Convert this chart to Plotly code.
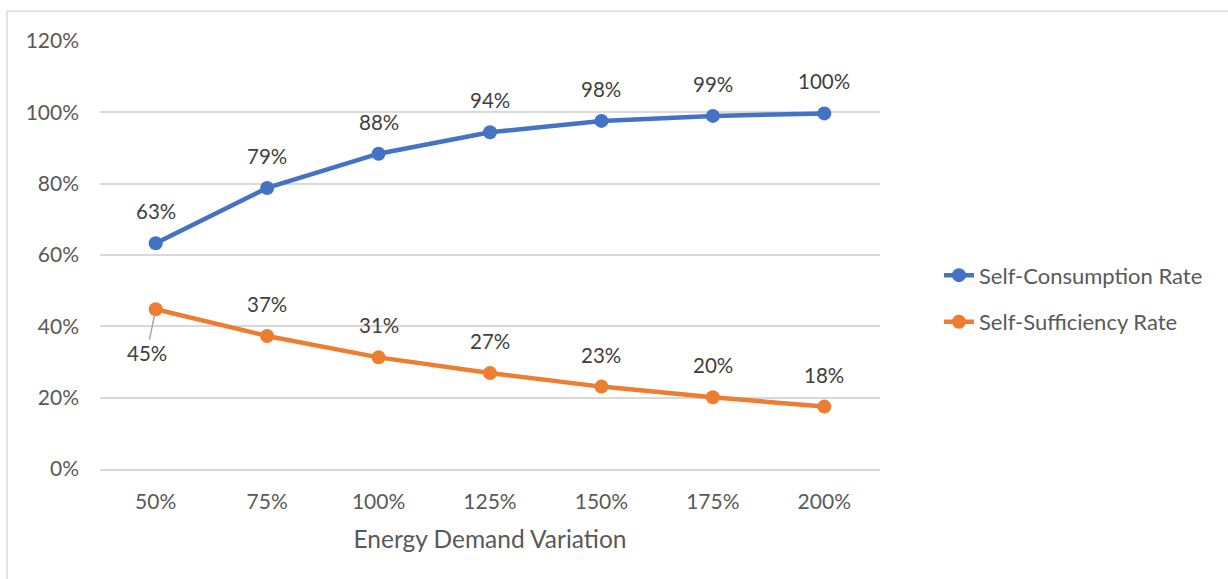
import plotly.graph_objects as go

# Energy demand scenarios and resulting rates (fractions)
demand_labels = ["50%", "75%", "100%", "125%", "150%", "175%", "200%"]
self_consumption = [0.633, 0.788, 0.884, 0.944, 0.976, 0.990, 0.997]
self_sufficiency = [0.448, 0.373, 0.313, 0.269, 0.231, 0.201, 0.175]
y_ticks = [0, 0.2, 0.4, 0.6, 0.8, 1.0, 1.2]
y_tick_labels = ["0%", "20%", "40%", "60%", "80%", "100%", "120%"]

BLUE = "#4472C4"
ORANGE = "#ED7D31"
TEXT = "#595959"
GRID = "#D9D9D9"
FONT = "Lato, Carlito, Calibri, sans-serif"

fig = go.Figure()
fig.add_trace(go.Scatter(
    x=demand_labels, y=self_consumption, name="Self-Consumption Rate",
    mode="lines+markers", legendgroup="a",
    line=dict(color=BLUE, width=4.5), marker=dict(color=BLUE, size=14),
))
fig.add_trace(go.Scatter(
    x=demand_labels, y=self_sufficiency, name="Self-Sufficiency Rate",
    mode="lines+markers", legendgroup="b",
    line=dict(color=ORANGE, width=4.5), marker=dict(color=ORANGE, size=14),
))

annotations = []
for cat, v in zip(demand_labels, self_consumption):
    annotations.append(dict(x=cat, y=v, text=f"{round(v * 100):.0f}%",
                            showarrow=False, yshift=32))
for i, (cat, v) in enumerate(zip(demand_labels, self_sufficiency)):
    if i == 0:
        # first label sits below-left with a leader line
        annotations.append(dict(x=cat, y=v, text=f"{round(v * 100):.0f}%",
                                showarrow=True, arrowhead=0, arrowwidth=1.5,
                                arrowcolor="#A6A6A6", ax=-9, ay=44, standoff=5))
    else:
        annotations.append(dict(x=cat, y=v, text=f"{round(v * 100):.0f}%",
                                showarrow=False, yshift=32))
for a in annotations:
    a["font"] = dict(family=FONT, size=20.5, color="#404040")

fig.update_layout(
    width=1228, height=579,
    margin=dict(l=100, r=348, t=41, b=110),
    paper_bgcolor="white", plot_bgcolor="white",
    font=dict(family=FONT, size=20, color=TEXT),
    annotations=annotations,
    showlegend=True,
    legend=dict(x=1.0756, xanchor="left", y=0.3975, yanchor="middle",
                tracegroupgap=15, font=dict(size=22, color=TEXT),
                bgcolor="rgba(0,0,0,0)"),
    shapes=[dict(type="rect", xref="paper", yref="paper",
                 x0=-0.1192, x1=1.6, y0=-0.4, y1=1.0698,
                 line=dict(color=GRID, width=1.5), layer="below")],
)
fig.update_xaxes(
    type="category", range=[-0.5, 6.5],
    showgrid=False, showline=True, linecolor=GRID, linewidth=1.5,
    ticks="", ticklabelstandoff=13, tickfont=dict(size=21, color=TEXT),
    title=dict(text="Energy Demand Variation", standoff=19,
               font=dict(size=24.5, color=TEXT)),
)
fig.update_yaxes(
    range=[0, 1.2], tickvals=y_ticks, ticktext=y_tick_labels,
    showgrid=True, gridcolor=GRID, gridwidth=1.5, zeroline=False,
    ticks="", ticklabelstandoff=20, tickfont=dict(size=21, color=TEXT),
)

fig.write_html("out.html")
